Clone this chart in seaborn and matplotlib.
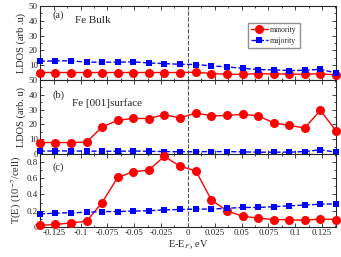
import numpy as np
import pandas as pd
import matplotlib
matplotlib.use("Agg")
import matplotlib.pyplot as plt
from matplotlib.ticker import MultipleLocator, FixedLocator, FixedFormatter
import seaborn as sns

sns.set_style("ticks")
plt.rcParams['font.family'] = ['Liberation Serif', 'DejaVu Serif']
plt.rcParams['mathtext.fontset'] = 'stix'

energy = [-0.138, -0.1235, -0.109, -0.0945, -0.080, -0.0655, -0.051, -0.0365, -0.022, -0.0075,
          0.0075, 0.022, 0.0365, 0.051, 0.0655, 0.080, 0.0945, 0.109, 0.1235, 0.138]

bulk_min = [5.0, 5.0, 5.0, 5.0, 5.0, 5.0, 5.0, 5.0, 5.0, 5.0,
            5.2, 4.3, 3.8, 3.8, 4.2, 4.0, 4.0, 3.8, 4.2, 3.4]
bulk_maj = [12.6, 12.9, 12.9, 12.0, 12.0, 12.0, 12.2, 11.5, 11.0, 10.6,
            10.4, 9.5, 8.8, 7.9, 7.0, 6.8, 6.3, 6.5, 7.2, 4.7]

surf_min = [7.7, 7.7, 7.7, 8.0, 18.2, 22.7, 24.0, 23.9, 26.6, 24.3,
            27.7, 25.7, 26.0, 26.8, 25.7, 21.0, 19.3, 17.5, 29.5, 15.7]
surf_maj = [1.9, 2.0, 2.0, 1.9, 1.8, 1.8, 2.0, 1.8, 1.6, 1.5,
            1.5, 1.6, 1.6, 1.4, 1.2, 1.2, 1.2, 1.6, 2.8, 1.2]

trans_min = [0.02, 0.03, 0.05, 0.07, 0.30, 0.61, 0.68, 0.70, 0.87, 0.75,
             0.69, 0.33, 0.20, 0.13, 0.11, 0.09, 0.09, 0.08, 0.10, 0.09]
trans_maj = [0.16, 0.17, 0.175, 0.18, 0.19, 0.19, 0.195, 0.20, 0.21, 0.215,
             0.22, 0.22, 0.23, 0.24, 0.24, 0.25, 0.26, 0.27, 0.28, 0.285]

xticks = [-0.125, -0.1, -0.075, -0.05, -0.025, 0, 0.025, 0.05, 0.075, 0.1, 0.125]
xticklabels = ['-0.125', '-0.1', '-0.075', '-0.05', '-0.025', '0',
               '0.025', '0.05', '0.075', '0.1', '0.125']

fig = plt.figure(figsize=(3.41, 2.57), dpi=100)
left, right = 0.117, 0.985
ax1 = fig.add_axes([left, 0.689, right - left, 0.288])
ax2 = fig.add_axes([left, 0.401, right - left, 0.288])
ax3 = fig.add_axes([left, 0.117, right - left, 0.284])

# (axes, minority, majority, ylim, major, minor, ylabel, tag, name, tag pos, name pos)
panels = [
    (ax1, bulk_min, bulk_maj, (0, 50), 10, 5, 'LDOS (arb .u)', '(a)', 'Fe Bulk',
     (0.044, 0.88), (0.12, 0.80)),
    (ax2, surf_min, surf_maj, (0, 50), 10, 5, 'LDOS (arb. u)', '(b)', 'Fe [001]surface',
     (0.044, 0.80), (0.108, 0.69)),
    (ax3, trans_min, trans_maj, (0, 0.9), 0.2, 0.1, 'T(E) (10$^{-7}$/cell)', '(c)', None,
     (0.044, 0.82), None),
]

for ax, ymin, ymaj, ylim, major, minor, ylab, tag, name, tpos, npos in panels:
    df = pd.DataFrame({'E': energy, 'minority': ymin, 'majority': ymaj})
    ax.axvline(0, color='#555555', ls='--', lw=0.8)
    sns.lineplot(data=df, x='E', y='minority', ax=ax, color='red', marker='o',
                 markersize=6.5, markeredgewidth=0, lw=1, label='minority',
                 clip_on=False, zorder=3)
    sns.lineplot(data=df, x='E', y='majority', ax=ax, color='blue', marker='s',
                 markersize=5, markeredgewidth=0, lw=1, ls='--', dashes=(4, 2),
                 label='majority', clip_on=False, zorder=3)
    ax.set_xlim(-0.138, 0.138)
    ax.set_ylim(*ylim)
    ax.set_ylabel(ylab, fontsize=7.5, labelpad=2)
    ax.yaxis.set_major_locator(MultipleLocator(major))
    ax.yaxis.set_minor_locator(MultipleLocator(minor))
    ax.xaxis.set_major_locator(FixedLocator(xticks))
    ax.xaxis.set_minor_locator(MultipleLocator(0.0125))
    ax.tick_params(which='both', direction='in', top=True, right=True,
                   labelsize=6.5, pad=1.5)
    ax.tick_params(which='major', length=3, width=0.6)
    ax.tick_params(which='minor', length=1.5, width=0.6)
    for s in ax.spines.values():
        s.set_linewidth(0.8)
    ax.text(tpos[0], tpos[1], tag, transform=ax.transAxes, fontsize=7.5, va='center')
    if name:
        ax.text(npos[0], npos[1], name, transform=ax.transAxes, fontsize=8, va='center')
    if ax is ax3:
        ax.xaxis.set_major_formatter(FixedFormatter(xticklabels))
        ax.set_xlabel('E-E$_F$, eV', fontsize=7.5, labelpad=1)
    else:
        ax.set_xticklabels([])
        ax.set_xlabel('')
    if ax is ax1:
        ax.set_yticks([10, 20, 30, 40, 50])
        ax.legend(loc='upper left', bbox_to_anchor=(0.69, 0.82), fontsize=5.5,
                  frameon=True, fancybox=False, edgecolor='#777777',
                  borderpad=0.4, handlelength=2.2, labelspacing=0.4,
                  handletextpad=0.3)
    else:
        ax.get_legend().remove()

ax3.set_yticks([0, 0.2, 0.4, 0.6, 0.8])
ax3.set_yticklabels(['0', '0.2', '0.4', '0.6', '0.8'])

fig.savefig('out.png', dpi=100)
